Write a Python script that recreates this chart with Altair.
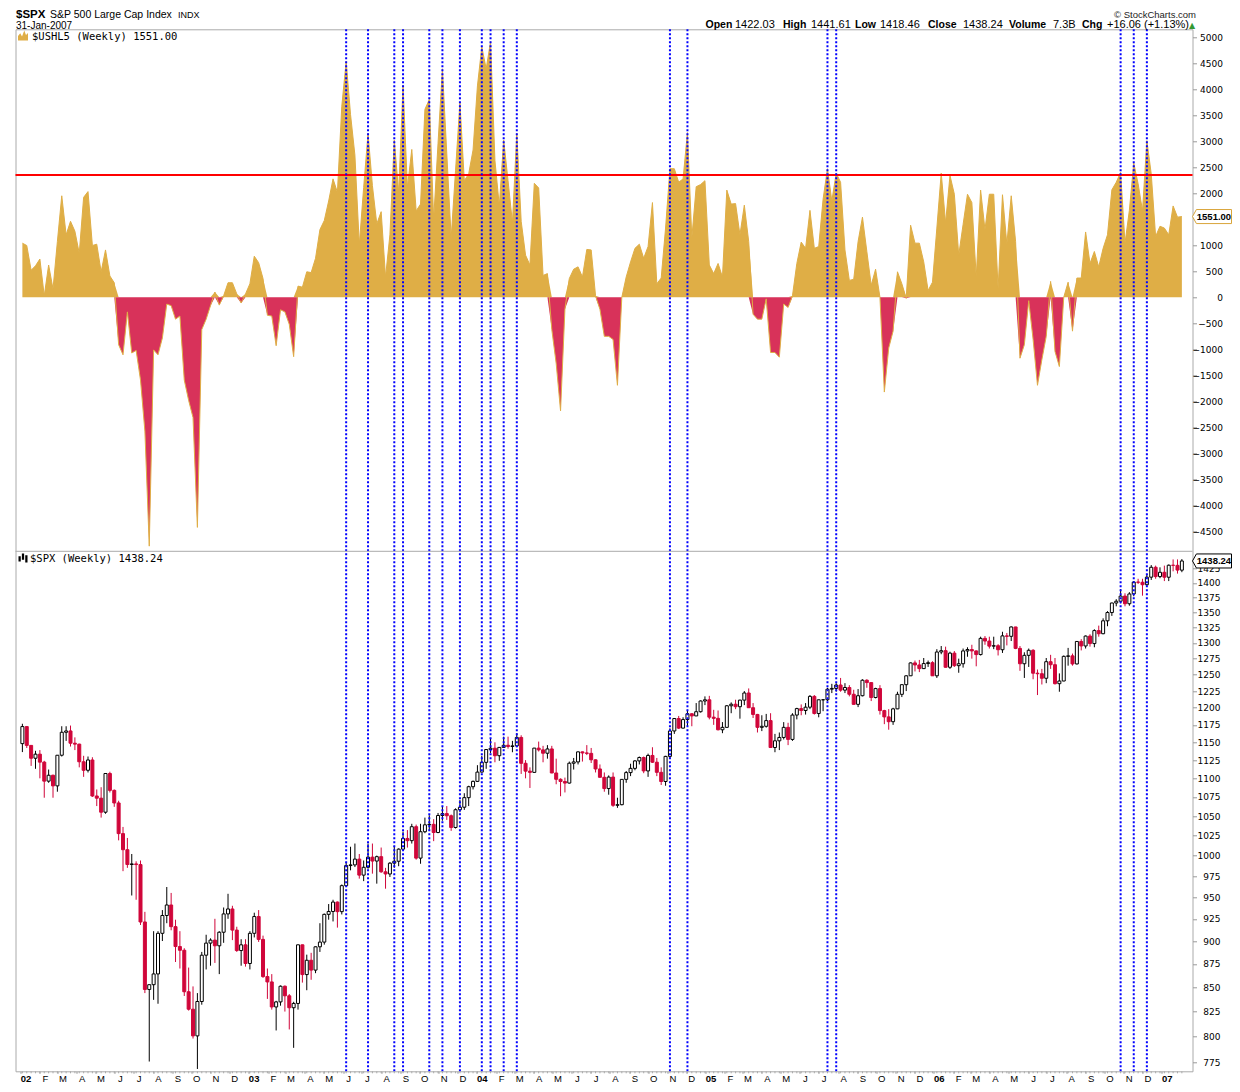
import altair as alt
import pandas as pd

N_WEEKS = 266
week_dates = pd.date_range("2002-01-04", periods=N_WEEKS, freq="7D").strftime("%Y-%m-%d").tolist()

# $USHL5 weekly values
ushl5 = [
    1040, 995, 520, 605, 735, 30, 620, 160, 1070, 1950,
    1200, 1460, 1270, 845, 1920, 2030, 995, 1020, 490, 910,
    410, 280, -910, -1105, -280, -1070, -1020, -1590, -2570, -4780,
    -1010, -1105, -780, -130, -160, -420, -360, -1590, -1980, -2310,
    -4420, -620, -420, -160, 100, -150, 30, 280, 280, 65,
    -110, 65, 260, 790, 665, 360, -345, -360, -930, -240,
    -280, -520, -1140, 215, 195, 490, 475, 750, 1300, 1475,
    1850, 2275, 2015, 3670, 4530, 3510, 2730, 1010, 2110, 3150,
    2145, 1410, 1645, 390, 1200, 3020, 2015, 4075, 2110, 2840,
    1660, 1790, 3610, 3800, 1495, 2960, 4390, 2760, 1140, 2440,
    3740, 2240, 2370, 2830, 4060, 4810, 4390, 4910, 2630, 1755,
    3020, 2240, 1430, 3150, 1460, 810, 620, 2190, 2100, 420,
    455, -620, -1270, -2180, -230, 360, 540, 585, 390, 920,
    910, 30, -230, -750, -750, -810, -1690, 0, 390, 680,
    940, 1020, 750, 975, 1820, 260, 370, 1330, 2470, 2470,
    2210, 2275, 3165, 1140, 2125, 2165, 2240, 620, 455, 650,
    390, 2060, 1790, 1800, 1200, 1770, 1070, -325, -420, -420,
    -30, -1060, -1060, -1150, -130, -195, 30, 650, 1060, 940,
    1670, 940, 975, 1885, 2470, 1850, 2385, 2210, 910, 325,
    345, 1070, 1540, 880, 230, 540, 0, -1820, -975, -650,
    490, 260, -20, 1385, 1040, 1040, 680, 130, 290, 1330,
    2385, 1430, 2340, 1980, 810, 1400, 1980, 1820, 390, 2060,
    1300, 1980, 1980, 160, 1970, 1020, 1950, 1070, -1170, -910,
    -65, -810, -1690, -1200, -750, 305, -1040, -1330, 0, 290,
    -650, 370, 370, 1255, 650, 880, 585, 940, 1200, 2065,
    2210, 2400, 1040, 1670, 2580, 2180, 1660, 3010, 2370, 1170,
    1365, 1330, 1200, 1755, 1540, 1551,
]

# $SPX weekly OHLC
spx_open = [
    1148.1, 1172.5, 1145.6, 1127.6, 1133.3, 1122.2, 1096.2, 1104.2, 1089.8, 1131.8, 1164.3, 1166.2, 1148.7,
    1147.4, 1122.7, 1111.0, 1125.2, 1076.3, 1073.4, 1055.0, 1106.6, 1083.8, 1067.1, 1027.5, 1007.3, 989.1,
    989.8, 989.0, 921.4, 847.8, 852.8, 864.2, 908.6, 928.8, 940.9, 916.1, 893.9, 889.8, 845.4,
    827.4, 800.6, 835.3, 884.4, 897.7, 901.0, 894.7, 909.8, 930.6, 936.3, 912.2, 889.5, 895.8,
    875.4, 908.6, 927.6, 901.8, 861.4, 855.7, 829.7, 834.9, 851.2, 841.2, 828.9, 833.3, 895.8,
    863.5, 878.9, 868.3, 893.6, 898.8, 930.1, 933.4, 944.3, 933.2, 963.6, 987.8, 988.6, 995.7,
    976.2, 985.7, 998.1, 993.3, 998.7, 980.2, 977.6, 990.7, 993.1, 1008.0, 1021.4, 1018.6, 1036.3,
    996.9, 1029.9, 1038.7, 1039.3, 1028.9, 1050.7, 1053.2, 1050.4, 1035.3, 1058.2, 1061.5, 1074.1, 1088.7,
    1095.9, 1108.5, 1121.9, 1139.8, 1141.6, 1131.1, 1142.8, 1145.8, 1144.1, 1144.9, 1156.9, 1120.6, 1109.8,
    1108.1, 1141.8, 1139.3, 1134.6, 1140.6, 1107.3, 1098.7, 1095.7, 1093.6, 1120.7, 1122.5, 1136.5, 1135.0,
    1134.4, 1125.4, 1112.8, 1101.4, 1086.2, 1101.7, 1064.0, 1064.8, 1098.6, 1107.8, 1113.6, 1123.9, 1128.6,
    1110.1, 1131.5, 1122.1, 1108.2, 1095.7, 1130.2, 1166.2, 1184.2, 1170.3, 1182.7, 1191.2, 1188.0, 1194.2, 1210.1,
    1211.9, 1186.2, 1184.5, 1167.9, 1171.4, 1203.0, 1205.3, 1201.6, 1211.4, 1222.1, 1200.1, 1190.2, 1171.4,
    1172.9, 1181.2, 1142.6, 1152.1, 1156.9, 1171.4, 1154.1, 1189.3, 1198.8, 1196.0, 1200.9, 1217.0, 1191.6,
    1211.9, 1211.9, 1227.9, 1229.0, 1234.2, 1226.4, 1230.4, 1220.2, 1205.1, 1218.0, 1241.5, 1237.9, 1215.3,
    1228.8, 1195.9, 1186.6, 1179.6, 1198.4, 1220.1, 1234.7, 1248.3, 1268.3, 1265.1, 1259.4, 1267.3, 1268.7,
    1248.3, 1285.5, 1287.6, 1261.5, 1283.7, 1264.0, 1267.0, 1287.2, 1289.4, 1287.2, 1281.4, 1307.3, 1303.0,
    1294.8, 1295.5, 1289.1, 1311.3, 1310.6, 1325.8, 1291.2, 1267.0, 1280.2, 1288.2, 1252.3, 1251.5, 1244.5,
    1270.2, 1265.5, 1236.2, 1240.3, 1278.6, 1279.4, 1266.7, 1302.3, 1295.1, 1311.0, 1298.9, 1319.9, 1314.8,
    1335.9, 1349.6, 1365.6, 1368.6, 1377.3, 1364.3, 1380.9, 1401.2, 1401.0, 1396.7, 1409.8, 1427.1, 1410.8,
    1418.3, 1409.7, 1430.7, 1430.5, 1422.03,
]
spx_high = [
    1176.6, 1173, 1145.6, 1138, 1139, 1124, 1112, 1105, 1132, 1173, 1173, 1174, 1157,
    1148, 1131, 1130, 1129, 1085, 1088, 1107, 1109, 1085, 1070, 1036, 1022, 1002,
    993, 994, 933, 853, 911, 911, 935, 962, 955, 924, 911, 892, 871,
    851, 844, 888, 907, 903, 925, 911, 938, 954, 940, 916, 902, 902,
    911, 932, 935, 906, 870, 864, 836, 852, 852, 843, 835, 896, 896,
    885, 887, 894, 920, 931, 942, 947, 945, 965, 992, 1011, 1015, 1002,
    994, 1015, 1015, 1000, 1010, 985, 992, 1012, 1009, 1030, 1032, 1040, 1039,
    1040, 1048, 1051, 1046, 1054, 1062, 1063, 1052, 1060, 1071, 1080, 1090, 1097,
    1118, 1131, 1140, 1155, 1150, 1143, 1158, 1158, 1152, 1163, 1160, 1125, 1115,
    1142, 1151, 1145, 1146, 1145, 1127, 1100, 1101, 1123, 1128, 1137, 1137, 1146,
    1142, 1126, 1119, 1108, 1104, 1108, 1074, 1099, 1110, 1120, 1125, 1130, 1130,
    1134, 1143, 1128, 1115, 1131, 1170, 1185, 1188, 1186, 1197, 1192, 1207, 1211, 1217,
    1217.8, 1197, 1196, 1179, 1204, 1208, 1212, 1212, 1225, 1229, 1207, 1191, 1189,
    1191, 1192, 1162, 1164, 1179, 1178, 1192, 1200, 1205, 1207, 1219, 1219, 1212,
    1213, 1230, 1236, 1237, 1245, 1237, 1234, 1227, 1228, 1243, 1243, 1238, 1230,
    1234, 1197, 1198, 1200, 1224, 1235, 1249, 1269, 1272, 1273, 1276, 1272, 1271,
    1290, 1295, 1294, 1286, 1287, 1275, 1291, 1293, 1297, 1288, 1310, 1311, 1310,
    1310, 1298, 1318, 1316, 1326.7, 1326, 1295, 1285, 1291, 1290, 1258, 1259, 1276,
    1281, 1276, 1252, 1280, 1292, 1283, 1303, 1306, 1312, 1314, 1322, 1328, 1340,
    1352, 1366, 1372, 1389, 1382, 1384, 1403, 1407, 1407, 1415, 1431, 1430, 1427,
    1430, 1432, 1441, 1441, 1441.61,
]
spx_low = [
    1136.2, 1142, 1117, 1113, 1100, 1074, 1094, 1074, 1082, 1130, 1152, 1144, 1139,
    1115, 1102, 1108, 1075, 1063, 1048, 1053, 1081, 1062, 1019, 981, 985, 952,
    947, 918, 844, 775.7, 837, 833, 900, 920, 912, 877, 870, 841, 826,
    798, 768.6, 832, 869, 873, 876, 864, 898, 925, 901, 888, 873, 872,
    869, 904, 899, 860, 838, 827, 806, 831, 825, 807, 788.9, 827, 855,
    847, 858, 865, 888, 896, 924, 922, 915, 930, 963, 982, 986, 972,
    969, 984, 978, 966, 979, 960, 974, 985, 987, 1007, 1010, 1015, 995,
    990, 1028, 1031, 1018, 1028, 1044, 1045, 1031, 1034, 1055, 1058, 1063, 1085,
    1095, 1108, 1113, 1135, 1122, 1124, 1142, 1141, 1136, 1143, 1106, 1100, 1087,
    1108, 1137, 1122, 1127, 1107, 1092, 1076, 1081, 1093, 1112, 1119, 1123, 1132,
    1121, 1108, 1101, 1082, 1078, 1062, 1060.7, 1064, 1094, 1103, 1111, 1119, 1107,
    1102, 1121, 1103, 1091, 1090, 1127, 1162, 1169, 1170, 1173, 1173, 1188, 1193, 1204,
    1183, 1175, 1167, 1163, 1171, 1192, 1198, 1184, 1204, 1200, 1185, 1164, 1166,
    1171, 1142, 1136, 1139, 1154, 1146, 1152, 1183, 1189, 1190, 1198, 1190, 1186,
    1195, 1210, 1222, 1224, 1224, 1222, 1217, 1205, 1201, 1217, 1230, 1210, 1214,
    1190, 1176, 1168, 1175, 1198, 1216, 1225, 1248, 1255, 1254, 1259, 1262, 1248,
    1245, 1282, 1261, 1259, 1262, 1253, 1261, 1278, 1275, 1263, 1280, 1297, 1291,
    1290, 1280, 1284, 1296, 1303, 1290, 1256, 1245, 1262, 1243, 1219, 1235, 1237,
    1259, 1235, 1224, 1240, 1264, 1264, 1266, 1288, 1291, 1294, 1293, 1310, 1314,
    1327, 1344, 1360, 1365, 1360, 1361, 1377, 1398, 1378, 1395, 1405, 1407, 1408,
    1403, 1403, 1420, 1416, 1418.46,
]
spx_close = [
    1172.5, 1145.6, 1127.6, 1133.3, 1122.2, 1096.2, 1104.2, 1089.8, 1131.8, 1164.3, 1166.2, 1148.7, 1147.4,
    1122.7, 1111.0, 1125.2, 1076.3, 1073.4, 1055.0, 1106.6, 1083.8, 1067.1, 1027.5, 1007.3, 989.1, 989.8,
    989.0, 921.4, 847.8, 852.8, 864.2, 908.6, 928.8, 940.9, 916.1, 893.9, 889.8, 845.4, 827.4,
    800.6, 835.3, 884.4, 897.7, 901.0, 894.7, 909.8, 930.6, 936.3, 912.2, 889.5, 895.8, 875.4,
    908.6, 927.6, 901.8, 861.4, 855.7, 829.7, 834.9, 851.2, 841.2, 828.9, 833.3, 895.8, 863.5,
    878.9, 868.3, 893.6, 898.8, 930.1, 933.4, 944.3, 933.2, 963.6, 987.8, 988.6, 995.7, 976.2,
    985.7, 998.1, 993.3, 998.7, 980.2, 977.6, 990.7, 993.1, 1008.0, 1021.4, 1018.6, 1036.3, 996.9,
    1029.9, 1038.7, 1039.3, 1028.9, 1050.7, 1053.2, 1050.4, 1035.3, 1058.2, 1061.5, 1074.1, 1088.7, 1095.9,
    1108.5, 1121.9, 1139.8, 1141.6, 1131.1, 1142.8, 1145.8, 1144.1, 1144.9, 1156.9, 1120.6, 1109.8, 1108.1,
    1141.8, 1139.3, 1134.6, 1140.6, 1107.3, 1098.7, 1095.7, 1093.6, 1120.7, 1122.5, 1136.5, 1135.0, 1134.4,
    1125.4, 1112.8, 1101.4, 1086.2, 1101.7, 1064.0, 1064.8, 1098.6, 1107.8, 1113.6, 1123.9, 1128.6, 1110.1,
    1131.5, 1122.1, 1108.2, 1095.7, 1130.2, 1166.2, 1184.2, 1170.3, 1182.7, 1191.2, 1188.0, 1194.2, 1210.1, 1211.9,
    1186.2, 1184.5, 1167.9, 1171.4, 1203.0, 1205.3, 1201.6, 1211.4, 1222.1, 1200.1, 1190.2, 1171.4, 1172.9,
    1181.2, 1142.6, 1152.1, 1156.9, 1171.4, 1154.1, 1189.3, 1198.8, 1196.0, 1200.9, 1217.0, 1191.6, 1211.9,
    1211.9, 1227.9, 1229.0, 1234.2, 1226.4, 1230.4, 1220.2, 1205.1, 1218.0, 1241.5, 1237.9, 1215.3, 1228.8,
    1195.9, 1186.6, 1179.6, 1198.4, 1220.1, 1234.7, 1248.3, 1268.3, 1265.1, 1259.4, 1267.3, 1268.7, 1248.3,
    1285.5, 1287.6, 1261.5, 1283.7, 1264.0, 1267.0, 1287.2, 1289.4, 1287.2, 1281.4, 1307.3, 1303.0, 1294.8,
    1295.5, 1289.1, 1311.3, 1310.6, 1325.8, 1291.2, 1267.0, 1280.2, 1288.2, 1252.3, 1251.5, 1244.5, 1270.2,
    1265.5, 1236.2, 1240.3, 1278.6, 1279.4, 1266.7, 1302.3, 1295.1, 1311.0, 1298.9, 1319.9, 1314.8, 1335.9,
    1349.6, 1365.6, 1368.6, 1377.3, 1364.3, 1380.9, 1401.2, 1401.0, 1396.7, 1409.8, 1427.1, 1410.8, 1418.3,
    1409.7, 1430.7, 1430.5, 1422.2, 1438.24,
]

signal_dates = [
    "2003-06-06", "2003-07-11", "2003-08-22", "2003-09-05", "2003-10-17", "2003-11-07",
    "2003-12-05", "2004-01-09", "2004-01-23", "2004-02-13", "2004-03-05", "2004-11-05",
    "2004-12-03", "2005-07-15", "2005-07-29", "2006-10-27", "2006-11-17", "2006-12-08",
]
threshold = 2350
top_ticks = [v for v in range(-4500, 5001, 500) if v != 1500]   # 1500 is hidden behind the value tag
bottom_ticks = list(range(775, 1426, 25))
month_ticks = [int(t.value // 10**6) for t in pd.date_range("2002-01-01", "2007-01-01", freq="MS")]

for arr in (ushl5, spx_open, spx_high, spx_low, spx_close):
    assert len(arr) == N_WEEKS, len(arr)

GOLD = "#DFAE46"
CRIMSON = "#D8325A"
RED = "#D0063A"
BLUE = "#0000FF"
W = 1177
H_TOP, H_BOT = 522, 520
H = H_TOP + H_BOT
PAD_L, PAD_T = 7.5, 21.3
SVG_W, SVG_H = 1224, 1076          # page is 1240x1092 with an 8px body margin
OX, OY = 8 + PAD_L, 8 + PAD_T      # page position of the plot origin

xscale = alt.Scale(type="utc", domain=[alt.DateTime(year=2002, month=1, date=1, utc=True),
                                       alt.DateTime(year=2007, month=2, date=11, utc=True)])
X = alt.X("date:T", scale=xscale, title=None, axis=alt.Axis(
    values=month_ticks,
    labelExpr="utcmonth(datum.value) == 0 ? utcFormat(datum.value, '%y') : substring(utcFormat(datum.value, '%B'), 0, 1)",
    labelFontWeight={"condition": {"test": "utcmonth(datum.value) == 0", "value": "bold"}, "value": "normal"},
    labelAlign="center", labelBaseline="top", labelOffset=5, labelFlush=False, labelOverlap=False,
    labelBound=False, labelFont="Liberation Sans", labelFontSize=9.5, labelColor="#000000",
    labelPadding=0.5, tickSize=2, tickColor="#999999", domain=False, grid=False))

ytop_scale = alt.Scale(domain=[-4879, 5148], range=[H_TOP, 0], nice=False, zero=False)
ytop_axis = alt.Axis(orient="right", offset=0, values=top_ticks, title=None, format="d", labelAlign="right",
                     labelBaseline="middle", labelPadding=26, tickSize=4, tickColor="#999999", domain=False,
                     grid=False, labelFont="DejaVu Sans", labelFontSize=9, labelColor="#000000",
                     labelOverlap=False)
ybot_scale = alt.Scale(type="log", domain=[766.4, 1455.5], range=[H, H_TOP], nice=False, zero=False)
ybot_axis = alt.Axis(orient="right", offset=0, values=bottom_ticks, title=None, format="d", labelAlign="right",
                     labelBaseline="middle", labelPadding=23.5, tickSize=4, tickColor="#999999", domain=False,
                     grid=False, labelFont="DejaVu Sans", labelFontSize=9, labelColor="#000000",
                     labelOverlap=False)


def one_row(**kw):
    return pd.DataFrame({k: [v] for k, v in kw.items()})


def text_layer(s, px, py, size=11, weight="normal", font="Liberation Sans", align="left", color="#000000"):
    return alt.Chart(one_row(t=s)).mark_text(
        align=align, baseline="alphabetic", font=font, fontSize=size, fontWeight=weight, color=color
    ).encode(x=alt.value(px), y=alt.value(py), text="t:N")


def header(s, page_x, page_y, **kw):
    return text_layer(s, page_x - OX, page_y - OY, **kw)


# value tag: pointer on the right edge of the plot
TAG = "M-1,0 L-0.8,-0.36 L1,-0.36 L1,0.36 L-0.8,0.36 Z"
TAG_HALF = 19.5
TAG_X = W + TAG_HALF
TAG_TEXT_X = W + TAG_HALF + 0.1 * TAG_HALF

# ---------- upper panel: $USHL5 ----------
ush = pd.DataFrame({"date": week_dates, "v": ushl5})
ush["pos"] = ush["v"].clip(lower=0)
ush["neg"] = ush["v"].clip(upper=0)

pos_area = alt.Chart(ush).mark_area(color=GOLD, interpolate="linear").encode(
    x=X, y=alt.Y("pos:Q", scale=ytop_scale, axis=ytop_axis), y2=alt.datum(0))
neg_area = alt.Chart(ush).mark_area(color=CRIMSON, interpolate="linear").encode(
    x=X, y=alt.Y("neg:Q", scale=ytop_scale, axis=ytop_axis), y2=alt.datum(0))
edge = alt.Chart(ush).mark_line(color=GOLD, strokeWidth=1).encode(
    x=X, y=alt.Y("v:Q", scale=ytop_scale, axis=ytop_axis))
red_rule = alt.Chart(one_row(t=threshold)).mark_rule(color="#FF0000", strokeWidth=2).encode(
    y=alt.Y("t:Q", scale=ytop_scale, axis=ytop_axis))

tag_top = alt.Chart(one_row(t=ushl5[-1])).mark_point(
    shape=TAG, size=(2 * TAG_HALF) ** 2, filled=True, fill="#ffffff", stroke="#D9A53A", strokeWidth=1, opacity=1
).encode(x=alt.value(TAG_X), y=alt.Y("t:Q", scale=ytop_scale, axis=ytop_axis))
tag_top_text = alt.Chart(one_row(t=ushl5[-1], s=f"{ushl5[-1]:.2f}")).mark_text(
    align="center", baseline="middle", font="Liberation Sans", fontSize=9.5, fontWeight="bold", color="#000000"
).encode(x=alt.value(TAG_TEXT_X), y=alt.Y("t:Q", scale=ytop_scale, axis=ytop_axis), text="s:N")

upper = alt.layer(pos_area, neg_area, edge, red_rule, tag_top, tag_top_text)

# ---------- lower panel: $SPX candles ----------
spx = pd.DataFrame({"date": week_dates, "open": spx_open, "high": spx_high,
                    "low": spx_low, "close": spx_close})
spx["dir"] = ["up" if c >= o else "down" for o, c in zip(spx_open, spx_close)]

wicks = alt.Chart(spx).mark_rule(strokeWidth=1).encode(
    x=X, y=alt.Y("low:Q", scale=ybot_scale, axis=ybot_axis), y2="high:Q",
    color=alt.Color("dir:N", scale=alt.Scale(domain=["up", "down"], range=["#000000", RED]), legend=None))
bodies = alt.Chart(spx).mark_bar(size=3, strokeWidth=1).encode(
    x=X, y=alt.Y("open:Q", scale=ybot_scale, axis=ybot_axis), y2="close:Q",
    fill=alt.Fill("dir:N", scale=alt.Scale(domain=["up", "down"], range=["#ffffff", RED]), legend=None),
    stroke=alt.Stroke("dir:N", scale=alt.Scale(domain=["up", "down"], range=["#000000", RED]), legend=None))
tag_bot = alt.Chart(one_row(t=spx_close[-1])).mark_point(
    shape=TAG, size=(2 * TAG_HALF) ** 2, filled=True, fill="#ffffff", stroke="#000000", strokeWidth=1, opacity=1
).encode(x=alt.value(TAG_X), y=alt.Y("t:Q", scale=ybot_scale, axis=ybot_axis))
tag_bot_text = alt.Chart(one_row(t=spx_close[-1], s=f"{spx_close[-1]:.2f}")).mark_text(
    align="center", baseline="middle", font="Liberation Sans", fontSize=9.5, fontWeight="bold", color="#000000"
).encode(x=alt.value(TAG_TEXT_X), y=alt.Y("t:Q", scale=ybot_scale, axis=ybot_axis), text="s:N")

lower = alt.layer(wicks, bodies, tag_bot, tag_bot_text)

# ---------- shared decorations ----------
sig = pd.DataFrame({"date": signal_dates})
sig_rules = alt.Chart(sig).mark_rule(color=BLUE, strokeWidth=2, strokeDash=[2, 2]).encode(x=X)
divider = alt.Chart(one_row(t=0)).mark_rule(color="#aaaaaa", strokeWidth=1).encode(
    x=alt.value(0), x2=alt.value(W), y=alt.value(H_TOP))
week_ticks = alt.Chart(spx).mark_rule(color="#aaaaaa", strokeWidth=1).encode(
    x=X, y=alt.value(H), y2=alt.value(H + 2))

MOUNTAIN = "M-1,1 L-1,0.1 L-0.55,-0.45 L-0.2,0.2 L0.25,-1 L0.6,-0.1 L1,-0.5 L1,1 Z"
CANDLES = "M-1,-0.4 L-0.5,-0.4 L-0.5,0.8 L-1,0.8 Z M-0.25,-1 L0.25,-1 L0.25,0.4 L-0.25,0.4 Z M0.5,-0.6 L1,-0.6 L1,1 L0.5,1 Z"
icon_top = alt.Chart(one_row(t=0)).mark_point(shape=MOUNTAIN, size=100, filled=True, color=GOLD, opacity=1).encode(
    x=alt.value(7.5), y=alt.value(6.3))
icon_bot = alt.Chart(one_row(t=0)).mark_point(shape=CANDLES, size=81, filled=True, color="#000000", opacity=1).encode(
    x=alt.value(7.5), y=alt.value(H_TOP + 6.7))
legend_top = text_layer(f"$USHL5 (Weekly) {ushl5[-1]:.2f}", 16.5, 10.7, size=10.5, font="DejaVu Sans Mono")
legend_bot = text_layer(f"$SPX (Weekly) {spx_close[-1]:.2f}", 14.5, H_TOP + 10.5, size=10.5, font="DejaVu Sans Mono")

headers = [
    header("$SPX", 16, 18.2, size=11.5, weight="bold"),
    header("S&P 500 Large Cap Index", 50, 18.2, size=10.5),
    header("INDX", 178, 18.2, size=9),
    header("31-Jan-2007", 16, 28.5, size=10),
    header("\u00a9 StockCharts.com", 1196, 17.5, size=9.5, align="right", color="#222222"),
]
quote_row = [
    ("Open", 705.5, True), ("1422.03", 735, False), ("High", 783, True), ("1441.61", 811, False),
    ("Low", 855, True), ("1418.46", 880, False), ("Close", 928, True), ("1438.24", 963, False),
    ("Volume", 1009, True), ("7.3B", 1053, False), ("Chg", 1082, True), ("+16.06 (+1.13%)", 1107, False),
]
for s, px, bold in quote_row:
    headers.append(header(s, px, 27.8, size=10.5 if bold else 11, weight="bold" if bold else "normal"))
headers.append(header("\u25b2", 1189, 27.8, size=8, font="DejaVu Sans", color="#339933"))

chart = alt.layer(
    upper, lower, sig_rules, divider, week_ticks, icon_top, icon_bot, legend_top, legend_bot, *headers
).resolve_scale(y="independent").properties(
    width=W, height=H,
    autosize=alt.AutoSizeParams(type="none"),
    padding={"left": PAD_L, "top": PAD_T, "right": SVG_W - PAD_L - W, "bottom": SVG_H - PAD_T - H},
    background="#ffffff",
).configure_view(stroke="#aaaaaa", strokeWidth=1)

chart.save("out.html", embed_options={"renderer": "svg", "actions": False})
